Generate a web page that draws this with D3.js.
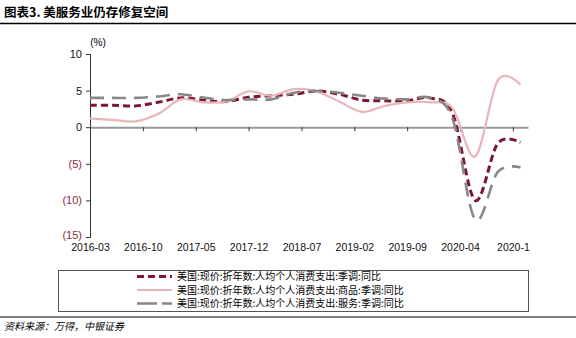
<!DOCTYPE html>
<html>
<head>
<meta charset="utf-8">
<script src="https://cdn.jsdelivr.net/npm/d3@7"></script>
<style>
  body { margin: 0; background: #fff; }
  svg { display: block; }
  text { font-family: "Liberation Sans", Arial, sans-serif; }
  .cjk { font-family: "Noto Sans CJK SC", sans-serif; }
</style>
</head>
<body>
<div id="chart"></div>
<script>
// quarterly points, labelled by quarter-end month
const quarters = [
  "2016-03", "2016-06", "2016-09", "2016-12",
  "2017-03", "2017-06", "2017-09", "2017-12",
  "2018-03", "2018-06", "2018-09", "2018-12",
  "2019-03", "2019-06", "2019-09", "2019-12",
  "2020-03", "2020-06", "2020-09", "2020-12"
];
const totalPce = [3.0, 3.0, 2.9, 3.4, 4.0, 3.7, 3.5, 4.1, 4.3, 4.5, 4.95, 4.5, 3.7, 3.6, 3.6, 4.0, 1.9, -10.0, -2.2, -2.1];
const goodsPce = [1.2, 1.0, 0.8, 1.8, 3.8, 3.4, 3.5, 4.9, 4.3, 5.2, 4.9, 3.5, 2.1, 2.9, 3.4, 3.4, 2.6, -4.0, 6.4, 5.8];
const servicesPce = [4.0, 4.0, 4.0, 4.2, 4.5, 4.05, 3.7, 3.8, 3.8, 4.7, 4.95, 4.7, 4.3, 3.9, 3.8, 4.0, 1.2, -12.6, -6.1, -5.5];

const seriesNames = [
  "美国:现价:折年数:人均个人消费支出:季调:同比",
  "美国:现价:折年数:人均个人消费支出:商品:季调:同比",
  "美国:现价:折年数:人均个人消费支出:服务:季调:同比"
];
const xTickLabels = ["2016-03", "2016-10", "2017-05", "2017-12", "2018-07", "2019-02", "2019-09", "2020-04", "2020-1"];
const yTicks = [10, 5, 0, -5, -10, -15];

const W = 576, H = 338;
const svg = d3.select("#chart").append("svg")
  .attr("width", W)
  .attr("height", H);

// month index from 2016-03
const monthIdx = s => {
  const [yy, mm] = s.split("-").map(Number);
  return (yy - 2016) * 12 + (mm - 3);
};

const x = d3.scaleLinear().domain([0, 58]).range([90, 528]);
const y = d3.scaleLinear().domain([-15, 10]).range([237, 54]);

// title
svg.append("text")
  .attr("class", "cjk")
  .attr("x", 4).attr("y", 17)
  .attr("font-size", 12.5).attr("font-weight", "bold")
  .text("图表3. 美服务业仍存修复空间");
svg.append("line")
  .attr("x1", 0).attr("x2", W).attr("y1", 23.5).attr("y2", 23.5)
  .attr("stroke", "#000").attr("stroke-width", 1.5);

// y axis
const yAxis = svg.append("g")
  .attr("transform", "translate(90,0)")
  .call(d3.axisLeft(y).tickValues(yTicks).tickSize(4)
    .tickFormat(d => d < 0 ? "(" + (-d) + ")" : d));
yAxis.select(".domain").attr("stroke", "#333");
yAxis.selectAll(".tick line").attr("stroke", "#333");
yAxis.selectAll(".tick text")
  .attr("x", -8)
  .attr("dy", d => d === -15 ? "0.1em" : "0.32em")
  .attr("font-size", 11)
  .attr("font-family", "Liberation Sans, Arial, sans-serif")
  .attr("fill", d => d < 0 ? "#8b2a3a" : "#111");

svg.append("text")
  .attr("x", 98).attr("y", 46)
  .attr("text-anchor", "middle")
  .attr("font-size", 10)
  .text("(%)");

// zero line with ticks
const tickMonths = xTickLabels.map((_, i) => i * 7);
const xAxis = svg.append("g")
  .attr("transform", "translate(0," + y(0) + ")")
  .call(d3.axisBottom(x).tickValues(tickMonths).tickSize(4).tickSizeOuter(0).tickFormat(""));
xAxis.select(".domain").attr("stroke", "#999").attr("stroke-width", 2);
xAxis.selectAll(".tick line").attr("stroke", "#333");

// tick labels along the bottom
const xLabels = svg.append("g")
  .attr("transform", "translate(0," + y(-15) + ")")
  .call(d3.axisBottom(x).tickValues(tickMonths).tickSize(0)
    .tickFormat((d, i) => xTickLabels[i]));
xLabels.select(".domain").remove();
xLabels.selectAll(".tick text")
  .attr("y", 7)
  .attr("font-size", 10.5)
  .attr("font-family", "Liberation Sans, Arial, sans-serif")
  .attr("fill", "#111");

// lines
const line = d3.line()
  .x(d => x(d[0]))
  .y(d => y(d[1]))
  .curve(d3.curveCardinal.tension(0));

const styles = [
  { color: "#7d1630", width: 3, dash: "7,4" },
  { color: "#e8b5bb", width: 2.2, dash: null },
  { color: "#878787", width: 2.6, dash: "14,8" }
];
const allValues = [totalPce, goodsPce, servicesPce];

allValues.forEach((vals, i) => {
  const pts = quarters.map((q, j) => [monthIdx(q), vals[j]]);
  svg.append("path")
    .datum(pts)
    .attr("d", line)
    .attr("fill", "none")
    .attr("stroke", styles[i].color)
    .attr("stroke-width", styles[i].width)
    .attr("stroke-dasharray", styles[i].dash);
});

// legend
svg.append("rect")
  .attr("x", 58.5).attr("y", 270.5)
  .attr("width", 470).attr("height", 41)
  .attr("fill", "none").attr("stroke", "#555").attr("stroke-width", 1);

const legendRows = [276.5, 290, 303.5];
seriesNames.forEach((name, i) => {
  svg.append("line")
    .attr("x1", 137).attr("x2", 172)
    .attr("y1", legendRows[i]).attr("y2", legendRows[i])
    .attr("stroke", styles[i].color)
    .attr("stroke-width", styles[i].width)
    .attr("stroke-dasharray", i === 2 ? "20,5" : styles[i].dash);
  svg.append("text")
    .attr("class", "cjk")
    .attr("x", 177).attr("y", legendRows[i] + 3.5)
    .attr("font-size", 10)
    .text(name);
});

// footer
svg.append("line")
  .attr("x1", 0).attr("x2", W).attr("y1", 317).attr("y2", 317)
  .attr("stroke", "#000").attr("stroke-width", 1.2);
svg.append("text")
  .attr("class", "cjk")
  .attr("x", 4).attr("y", 330)
  .attr("font-size", 10)
  .attr("font-style", "italic")
  .text("资料来源：万得，中银证券");
</script>
</body>
</html>
